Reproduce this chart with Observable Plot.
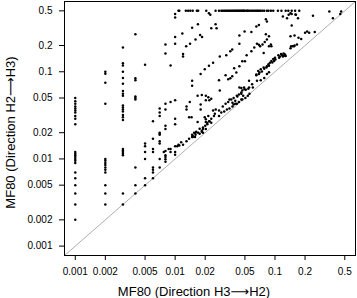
<!DOCTYPE html>
<html><head><meta charset="utf-8">
<script src="https://cdn.jsdelivr.net/npm/d3@7"></script>
<script src="https://cdn.jsdelivr.net/npm/@observablehq/plot@0.6"></script>
<style>body{margin:0;background:#fff} svg{display:block}</style>
</head><body><div id="chart"></div>
<script>
// Axis setup (values, not positions)
const tickValues = [0.001, 0.002, 0.005, 0.01, 0.02, 0.05, 0.1, 0.2, 0.5];
const axisDomain = [0.00078, 0.64];
const xTitle = "MF80 (Direction H3⟶H2)";
const yTitle = "MF80 (Direction H2⟶H3)";

// Low discrete columns: x (H3→H2) and the y (H2→H3) values found at each x
const columnX = [0.001, 0.002, 0.003, 0.004, 0.005, 0.006, 0.007, 0.008, 0.009, 0.01];
const columnY = [
  [0.002,0.003,0.004,0.005,0.006,0.007,0.009,0.0095,0.01,0.0105,0.011,0.0115,0.012,0.025,0.029,0.031,0.034,0.036,0.038,0.040,0.043,0.046,0.05],
  [0.003,0.004,0.005,0.007,0.0075,0.008,0.0085,0.009,0.0095,0.01,0.043,0.075,0.095,0.1],
  [0.003,0.004,0.011,0.0115,0.012,0.0125,0.013,0.028,0.030,0.032,0.035,0.037,0.039,0.041,0.053,0.056,0.06,0.073,0.085,0.1,0.118,0.125,0.19],
  [0.004,0.005,0.008,0.048,0.05,0.052,0.08,0.084,0.27],
  [0.005,0.006,0.01,0.012,0.014,0.015,0.12],
  [0.006,0.007,0.0075,0.008,0.012,0.013,0.017,0.027],
  [0.008,0.01,0.015,0.016,0.019,0.0195,0.02,0.031,0.034,0.038],
  [0.0093,0.0099,0.0105,0.011,0.0123,0.022,0.024,0.037,0.043,0.162,0.205],
  [0.012,0.013,0.045,0.118],
  [0.0112,0.012,0.014,0.025,0.029,0.047,0.21,0.25,0.42,0.46]
];

// Points sitting on the 0.5 ceiling (x values)
const topRowY = 0.5;
const topRowX = [0.0108,0.011,0.0128,0.0135,0.0142,0.015,0.0165,0.017,0.0205,0.0254,0.0275,
  0.029,0.030,0.031,0.032,0.033,0.034,0.035,0.036,0.037,0.038,0.039,0.040,0.041,0.042,0.043,0.044,
  0.045,0.046,0.047,0.048,0.049,0.050,0.052,0.053,0.054,0.056,0.058,0.060,0.062,0.064,0.066,0.068,
  0.070,0.072,0.075,0.078,0.083,0.086,0.091,0.096,0.107,0.116,0.128,0.136,0.147,0.159,0.175];

// Upper scatter [x, y]
const upperPts = [
  [0.0218,0.47],[0.0225,0.45],[0.0148,0.32],[0.0169,0.35],[0.023,0.315],[0.0254,0.35],[0.026,0.315],[0.0118,0.275],
  [0.0129,0.196],[0.0141,0.21],[0.016,0.235],[0.0178,0.265],[0.0186,0.25],[0.012,0.16],[0.012,0.15],
  [0.044,0.26],[0.0496,0.29],[0.058,0.285],[0.065,0.33],[0.069,0.345],[0.044,0.21],
  [0.028,0.15],[0.0325,0.155],[0.0357,0.172],[0.0373,0.18],[0.052,0.155],[0.058,0.172],[0.062,0.19],[0.069,0.204],[0.066,0.21],
  [0.024,0.127],[0.0218,0.117],[0.0198,0.107],[0.018,0.094],[0.047,0.132],[0.05,0.132],[0.044,0.116],
  [0.039,0.11],[0.041,0.098],[0.032,0.091],[0.034,0.082],[0.0357,0.084],[0.0373,0.089],[0.0275,0.08],
  [0.065,0.093],[0.07,0.098],[0.0148,0.079],[0.0148,0.069],[0.028,0.061],
  [0.055,0.079],[0.059,0.072],[0.055,0.066],[0.06,0.066],[0.044,0.066],[0.047,0.061],
  [0.081,0.40],[0.083,0.378],[0.12,0.43],[0.132,0.41],[0.137,0.45],[0.143,0.47],[0.147,0.46],[0.16,0.455],[0.17,0.41],[0.162,0.45],
  [0.24,0.44],[0.35,0.49],[0.38,0.41],[0.45,0.46],[0.46,0.49],[0.147,0.34],
  [0.087,0.255],[0.083,0.235],[0.079,0.22],[0.075,0.205],[0.071,0.196],[0.081,0.27],[0.092,0.196],[0.087,0.196],[0.091,0.205],[0.077,0.164],
  [0.143,0.255],[0.157,0.26],[0.172,0.245],[0.183,0.237],[0.21,0.29],[0.22,0.28],[0.25,0.285],[0.2,0.28],
  [0.115,0.16],[0.118,0.155],[0.12,0.15],[0.123,0.153],[0.126,0.158],[0.128,0.152],[0.122,0.162],[0.112,0.15],[0.108,0.155],
  [0.143,0.186],[0.15,0.196],[0.157,0.2],[0.166,0.205],[0.155,0.196],
  [0.0168,0.053],[0.0185,0.054],[0.0203,0.053],[0.0215,0.051],[0.023,0.049],[0.022,0.047],[0.0203,0.047],
  [0.014,0.045],[0.013,0.04],[0.013,0.037],[0.018,0.042],[0.018,0.037],
  [0.0215,0.031],[0.0198,0.03],[0.0203,0.0285],[0.022,0.027],[0.023,0.026],[0.021,0.026],
  [0.0138,0.03],[0.0146,0.03],[0.0168,0.0265],[0.0203,0.0265],
  [0.046,0.065],[0.049,0.066],[0.051,0.062],[0.054,0.064]
];

// Band just above the diagonal [x, y]
const diagPts = [
  [0.011,0.0143],[0.012,0.0145],[0.013,0.016],[0.0138,0.017],[0.0148,0.0178],[0.0148,0.019],[0.0155,0.02],[0.0163,0.0205],
  [0.017,0.02],[0.0176,0.0222],[0.0185,0.021],[0.019,0.02],[0.0077,0.012],[0.0086,0.013],[0.0105,0.014],
  [0.0115,0.0155],[0.0108,0.0145],[0.015,0.0178],[0.016,0.019],[0.0185,0.0205],[0.019,0.022],[0.0203,0.022],
  [0.016,0.02],[0.0176,0.0195],[0.015,0.0185],[0.0158,0.0178],
  [0.019,0.023],[0.02,0.024],[0.021,0.025],[0.022,0.027],[0.023,0.029],[0.0245,0.031],[0.025,0.033],
  [0.024,0.036],[0.0255,0.037],[0.0275,0.036],[0.03,0.04],[0.032,0.043],[0.034,0.045],[0.0365,0.048],[0.0385,0.05],
  [0.0415,0.053],[0.0435,0.055],[0.046,0.058],[0.0495,0.063],
  [0.0275,0.031],[0.029,0.034],[0.031,0.035],[0.033,0.037],[0.035,0.038],[0.0375,0.04],[0.04,0.043],[0.0435,0.045],
  [0.047,0.048],[0.0505,0.05],[0.0535,0.053],[0.0555,0.056],
  [0.046,0.056],[0.048,0.053],[0.042,0.052],[0.04,0.0465],[0.035,0.048],[0.0375,0.044],[0.0385,0.042],[0.0415,0.043],[0.046,0.048],
  [0.065,0.091],[0.069,0.094],[0.074,0.101],[0.078,0.108],[0.082,0.112],[0.087,0.117],[0.094,0.128],[0.098,0.133],[0.101,0.138],[0.11,0.145],
  [0.068,0.102],[0.072,0.107],[0.077,0.112],[0.072,0.08],[0.078,0.085],[0.083,0.094],[0.087,0.099],[0.066,0.079],
  [0.1,0.145],[0.096,0.14],[0.092,0.133],[0.089,0.127],[0.086,0.122],[0.083,0.116],[0.145,0.196]
];

const points = [];
columnX.forEach((x, i) => columnY[i].forEach(y => points.push({x, y})));
topRowX.forEach(x => points.push({x, y: topRowY}));
upperPts.forEach(([x, y]) => points.push({x, y}));
diagPts.forEach(([x, y]) => points.push({x, y}));

const fmt = d => String(d);
const font = "'Liberation Sans', Arial, Helvetica, 'DejaVu Sans', sans-serif";

const chart = Plot.plot({
  width: 357, height: 298,
  marginLeft: 64, marginRight: 2, marginTop: 1, marginBottom: 43,
  style: {fontFamily: font, fontSize: "10px", background: "#fff", color: "#000"},
  x: {type: "log", domain: axisDomain},
  y: {type: "log", domain: axisDomain},
  marks: [
    Plot.line(axisDomain.map(v => ({v})), {x: "v", y: "v", stroke: "#999", strokeWidth: 0.8}),
    Plot.dot(points, {x: "x", y: "y", r: 1.25, fill: "#000", stroke: "none"}),
    Plot.frame({stroke: "#000", strokeWidth: 1}),
    Plot.axisX(tickValues, {tickSize: 5, tickPadding: 7, text: fmt, label: null, stroke: "#000", fill: "#000"}),
    Plot.axisY(tickValues, {tickSize: 5, tickPadding: 7, text: fmt, label: null, stroke: "#000", fill: "#000"}),
    Plot.text([xTitle], {text: d => d, frameAnchor: "bottom", dx: -16, dy: 40, lineAnchor: "bottom", textAnchor: "middle", fontSize: 13, fill: "#000"}),
    Plot.text([yTitle], {text: d => d, frameAnchor: "left", dx: -50, dy: 4, rotate: -90, lineAnchor: "bottom", textAnchor: "middle", fontSize: 13, fill: "#000"})
  ]
});
document.getElementById("chart").appendChild(chart);
</script>
</body></html>
